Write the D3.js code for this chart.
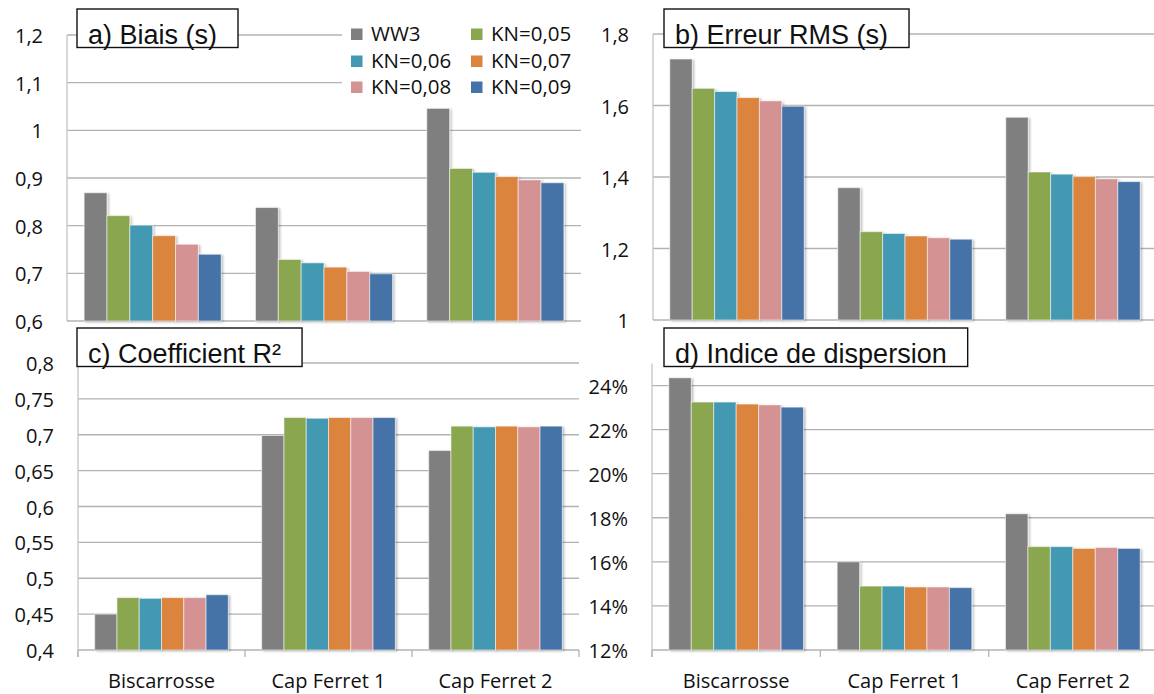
<!DOCTYPE html>
<html><head><meta charset="utf-8">
<script src="https://cdn.jsdelivr.net/npm/d3@7"></script>
<style>
html,body{margin:0;padding:0;background:#fff;}
svg text{font-family:"Open Sans",sans-serif;fill:#111;}
</style></head>
<body><svg id="c" width="1154" height="694"></svg>
<script>
const categories = ["Biscarrosse", "Cap Ferret 1", "Cap Ferret 2"];
const seriesNames = ["WW3", "KN=0,05", "KN=0,06", "KN=0,07", "KN=0,08", "KN=0,09"];
const seriesColors = ["#7f7f7f", "#8aa64f", "#4299b1", "#db843d", "#d49293", "#4572a7"];

// rows = series, columns = categories
const biaisValues = [
  [0.869, 0.838, 1.046],
  [0.821, 0.729, 0.920],
  [0.801, 0.722, 0.912],
  [0.779, 0.713, 0.903],
  [0.761, 0.704, 0.896],
  [0.740, 0.699, 0.890]
];
const rmsValues = [
  [1.730, 1.370, 1.567],
  [1.648, 1.247, 1.414],
  [1.639, 1.242, 1.408],
  [1.622, 1.235, 1.401],
  [1.613, 1.230, 1.395],
  [1.598, 1.226, 1.387]
];
const r2Values = [
  [0.450, 0.699, 0.678],
  [0.473, 0.724, 0.712],
  [0.472, 0.723, 0.711],
  [0.473, 0.724, 0.712],
  [0.473, 0.724, 0.711],
  [0.477, 0.724, 0.712]
];
const dispersionValues = [
  [24.35, 16.00, 18.18],
  [23.25, 14.90, 16.69],
  [23.25, 14.90, 16.69],
  [23.16, 14.86, 16.61],
  [23.12, 14.86, 16.65],
  [23.02, 14.83, 16.61]
];

const biaisTicks = [0.6, 0.7, 0.8, 0.9, 1.0, 1.1, 1.2];
const rmsTicks = [1.0, 1.2, 1.4, 1.6, 1.8];
const r2Ticks = [0.4, 0.45, 0.5, 0.55, 0.6, 0.65, 0.7, 0.75, 0.8];
const dispersionTicks = [12, 14, 16, 18, 20, 22, 24];

const titles = ["a) Biais (s)", "b) Erreur RMS (s)", "c) Coefficient R²", "d) Indice de dispersion"];

const svg = d3.select("#c");
const defs = svg.append("defs");
const f = defs.append("filter").attr("id", "sh").attr("x", "-20%").attr("y", "-20%").attr("width", "150%").attr("height", "150%");
f.append("feDropShadow").attr("dx", 1.5).attr("dy", 1).attr("stdDeviation", 1).attr("flood-color", "#000").attr("flood-opacity", 0.28);

const comma = d => String(+d.toFixed(2)).replace(".", ",");
const pct = d => d + "%";

const panels = [
  {vals: biaisValues, ticks: biaisTicks, dom: [0.6, 1.2], fmt: comma, L: 67, R: 581, T: 35, B: 321, xlab: false, title: titles[0], bx: 77, by: 9},
  {vals: rmsValues, ticks: rmsTicks, dom: [1.0, 1.8], fmt: comma, L: 653, R: 1157, T: 34, B: 320, xlab: false, title: titles[1], bx: 664, by: 9},
  {vals: r2Values, ticks: r2Ticks, dom: [0.4, 0.8], fmt: comma, L: 78, R: 579, T: 363, B: 650, xlab: true, title: titles[2], bx: 77, by: 328},
  {vals: dispersionValues, ticks: dispersionTicks, dom: [12, 25], fmt: pct, L: 652, R: 1157, T: 363.5, B: 650, xlab: true, title: titles[3], bx: 664, by: 328}
];

panels.forEach((p, pi) => {
  const g = svg.append("g");
  const y = d3.scaleLinear().domain(p.dom).range([p.B, p.T]);
  const x0 = d3.scaleBand().domain(categories).range([p.L, p.R]).paddingInner(0.2).paddingOuter(0.1);
  const x1 = d3.scaleBand().domain(seriesNames).range([0, x0.bandwidth()]);

  // gridlines
  g.append("g").selectAll("line").data(p.ticks.filter(t => t !== p.dom[0])).join("line")
    .attr("x1", p.L).attr("x2", p.R).attr("y1", d => y(d)).attr("y2", d => y(d))
    .attr("stroke", "#b3b3b3").attr("stroke-width", 1.3);

  // y axis via d3
  const yAxis = d3.axisLeft(y).tickValues(p.ticks).tickFormat(p.fmt).tickSize(0).tickPadding(0);
  const ya = g.append("g").attr("transform", `translate(${p.L - 24},0)`).call(yAxis);
  ya.select(".domain").remove();
  ya.selectAll("text").style("font-family", "'Open Sans',sans-serif").style("font-size", "20px").attr("fill", "#111").attr("dy", "0.38em");

  // axis lines
  g.append("line").attr("x1", p.L).attr("x2", p.L).attr("y1", p.T).attr("y2", p.B + (p.xlab ? 7 : 0)).attr("stroke", "#c4c4c4").attr("stroke-width", 1.3);
  g.append("line").attr("x1", p.L).attr("x2", p.R).attr("y1", p.B).attr("y2", p.B).attr("stroke", "#b3b3b3").attr("stroke-width", 1.3);

  // bars
  const groups = g.append("g").selectAll("g").data(categories).join("g")
    .attr("transform", c => `translate(${x0(c)},0)`);
  groups.selectAll("rect").data((c, ci) => seriesNames.map((s, si) => ({s, si, v: p.vals[si][ci]}))).join("rect")
    .attr("x", d => x1(d.s)).attr("width", x1.bandwidth())
    .attr("y", d => y(d.v)).attr("height", d => p.B - y(d.v))
    .attr("fill", d => seriesColors[d.si])
    .attr("stroke", "#ffffff").attr("stroke-opacity", 0.55).attr("stroke-width", 1)
    .attr("filter", "url(#sh)");

  if (p.xlab) {
    const step = x0.step();
    const bounds = d3.range(categories.length + 1).map(i => p.L + i * step);
    g.append("g").selectAll("line").data(bounds).join("line")
      .attr("x1", d => d).attr("x2", d => d).attr("y1", p.B).attr("y2", p.B + 7)
      .attr("stroke", "#b3b3b3").attr("stroke-width", 1.3);
    const xa = d3.axisBottom(x0).tickSize(0).tickPadding(0);
    const xg = g.append("g").attr("transform", `translate(0,${p.B + 24})`).call(xa);
    xg.select(".domain").remove();
    xg.selectAll("text").style("font-family", "'Open Sans',sans-serif").style("font-size", "20px").attr("fill", "#111").attr("dy", "0.72em");
  }

  // title box
  const tg = svg.append("g");
  const rect = tg.append("rect").attr("fill", "#fff").attr("stroke", "#111").attr("stroke-width", 1.4);
  const tt = tg.append("text").attr("x", p.bx + 11).attr("y", p.by + 35)
    .style("font-family", "'Liberation Sans',Arial,sans-serif").style("font-size", "27px").text(p.title);
  const w = tt.node().getComputedTextLength();
  rect.attr("x", p.bx).attr("y", p.by).attr("width", w + 32).attr("height", 38.5);

  if (pi === 0) {
    const lg = svg.append("g");
    lg.append("rect").attr("x", 342).attr("y", 18).attr("width", 240).attr("height", 84).attr("fill", "#fff");
    const cols = [351, 471];
    const rows = [34, 61, 87];
    seriesNames.forEach((s, i) => {
      const cx = cols[i % 2], cy = rows[Math.floor(i / 2)];
      lg.append("rect").attr("x", cx).attr("y", cy - 5.5).attr("width", 11.5).attr("height", 11.5).attr("fill", seriesColors[i]);
      lg.append("text").attr("x", cx + 20).attr("y", cy).attr("dy", "0.36em")
        .style("font-size", "20.5px").text(s);
    });
  }
});
</script></body></html>
